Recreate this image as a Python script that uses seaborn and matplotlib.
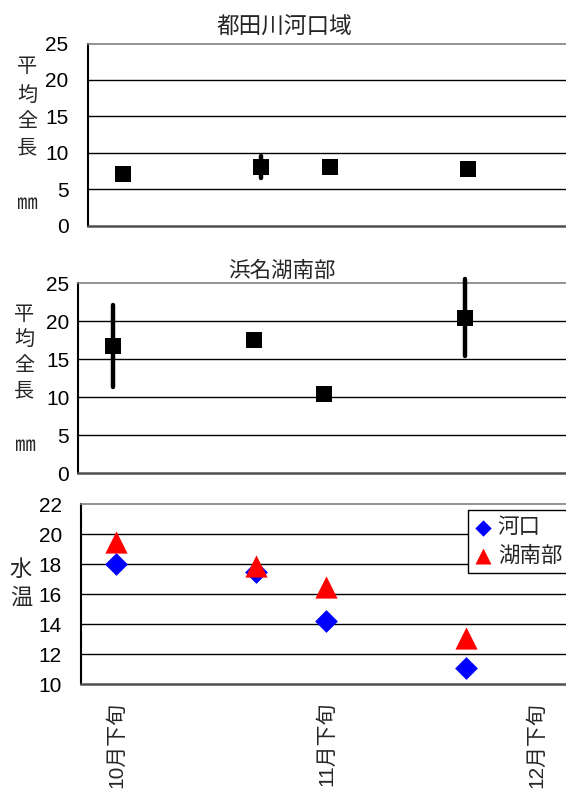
import numpy as np
import pandas as pd
import matplotlib
matplotlib.use("Agg")
import matplotlib.pyplot as plt
import seaborn as sns

# ---- data ----
x_labels = ["10月下旬", "", "", "11月下旬", "", "", "12月下旬", ""]

top_title = "都田川河口域"
top_pos = [0, 2, 3, 5]
top_mean = [7.1, 8.0, 8.0, 7.7]
top_lo = [np.nan, 6.5, np.nan, np.nan]
top_hi = [np.nan, 9.5, np.nan, np.nan]

mid_title = "浜名湖南部"
mid_pos = [0, 2, 3, 5]
mid_mean = [16.8, 17.6, 10.4, 20.4]
mid_lo = [11.3, np.nan, np.nan, 15.4]
mid_hi = [22.2, np.nan, np.nan, 25.6]

temp_pos = [0, 2, 3, 5]
temp_kako = [18.0, 17.5, 14.2, 11.1]
temp_konan = [19.45, 17.9, 16.5, 13.1]
legend_labels = ["河口", "湖南部"]

# ---- style ----
sns.set_style("white")
plt.rcParams["font.family"] = ["Liberation Sans", "Noto Sans CJK JP", "DejaVu Sans"]

W, H = 566, 792
fig = plt.figure(figsize=(W / 100, H / 100), dpi=100)


def px_axes(left, top, right, bottom):
    return fig.add_axes([left / W, 1 - bottom / H, (right - left) / W, (bottom - top) / H])


ax1 = px_axes(88, 43.5, 641, 225.5)
ax2 = px_axes(77.6, 283.3, 641, 473.3)
ax3 = px_axes(81.2, 504, 641, 684)

FS = 15
spine_c = "#505050"


def style_axis(ax, ylim, yticks, ypad, show_labels=False):
    ax.set_xlim(-0.5, len(x_labels) - 0.5)
    ax.set_ylim(*ylim)
    ax.set_yticks(yticks)
    ax.set_yticklabels([str(t) for t in yticks])
    ax.tick_params(axis="y", length=0, pad=ypad, labelsize=FS, colors="black")
    for t in yticks[1:-1]:
        ax.axhline(t, color="black", lw=1.0, zorder=0.5)
    ax.set_xticks(np.arange(len(x_labels)) + 0.5, minor=True)
    ax.tick_params(axis="x", which="minor", direction="in", length=6.5, width=1.2, color=spine_c)
    if show_labels:
        ax.set_xticks(np.arange(len(x_labels)))
        ax.set_xticklabels(x_labels, rotation=90, va="top", ha="center", fontsize=15)
        ax.tick_params(axis="x", which="major", length=0, pad=13)
    else:
        ax.set_xticks([])
    ax.spines["left"].set_color("black")
    ax.spines["left"].set_linewidth(1.5)
    ax.spines["bottom"].set_color(spine_c)
    ax.spines["bottom"].set_linewidth(1.8)
    ax.spines["top"].set_color("#808080")
    ax.spines["top"].set_linewidth(1.2)
    ax.spines["right"].set_visible(False)
    ax.set_xlabel("")
    ax.set_ylabel("")


def vlabel(chars_pos, x, fs):
    for ch, y in chars_pos:
        fig.text(x / W, 1 - y / H, ch, ha="center", va="center", fontsize=fs,
                 family=["Noto Sans CJK JP", "DejaVu Sans"])


# ---- top panel ----
df1 = pd.DataFrame({"x": top_pos, "y": top_mean, "lo": top_lo, "hi": top_hi})
sns.scatterplot(data=df1, x="x", y="y", marker="s", s=11.5 ** 2, color="black",
                linewidth=0, ax=ax1, zorder=3, clip_on=False)
e1 = df1.dropna()
ax1.vlines(e1["x"], e1["lo"], e1["hi"], color="black", lw=3.2, zorder=3,
           capstyle="round", clip_on=False)
style_axis(ax1, (0, 25), [0, 5, 10, 15, 20, 25], 14)
fig.text(284 / W, 1 - 27 / H, top_title, ha="center", va="center", fontsize=16.3,
         family=["Noto Sans CJK JP"])
vlabel([("平", 66.7), ("均", 95), ("全", 121), ("長", 148)], 27, 14.5)
fig.text(27 / W, 1 - 203 / H, "㎜", ha="center", va="center", fontsize=15,
         family=["Noto Sans CJK JP", "DejaVu Sans"])

# ---- middle panel ----
df2 = pd.DataFrame({"x": mid_pos, "y": mid_mean, "lo": mid_lo, "hi": mid_hi})
e2 = df2.dropna()
ax2.vlines(e2["x"], e2["lo"], e2["hi"], color="black", lw=3.2, zorder=3,
           capstyle="round", clip_on=False)
sns.scatterplot(data=df2, x="x", y="y", marker="s", s=11.5 ** 2, color="black",
                linewidth=0, ax=ax2, zorder=4, clip_on=False)
style_axis(ax2, (0, 25), [0, 5, 10, 15, 20, 25], 6)
fig.text(281.6 / W, 1 - 270.7 / H, mid_title, ha="center", va="center", fontsize=15.5,
         family=["Noto Sans CJK JP"])
vlabel([("平", 315), ("均", 339), ("全", 365), ("長", 391)], 24, 14.5)
fig.text(25 / W, 1 - 445 / H, "㎜", ha="center", va="center", fontsize=15,
         family=["Noto Sans CJK JP", "DejaVu Sans"])

# ---- bottom panel ----
df3 = pd.DataFrame({"x": temp_pos, "kako": temp_kako, "konan": temp_konan})
sns.scatterplot(data=df3, x="x", y="kako", marker="D", s=11.6 ** 2, color="#0000ff",
                linewidth=0, ax=ax3, zorder=3, label=legend_labels[0])
sns.scatterplot(data=df3, x="x", y="konan", marker="^", s=16 ** 2, color="#ff0000",
                linewidth=0, ax=ax3, zorder=4, label=legend_labels[1])
style_axis(ax3, (10, 22), [10, 12, 14, 16, 18, 20, 22], 14, show_labels=True)
vlabel([("水", 569), ("温", 597)], 21, 16)

leg = ax3.legend(loc="upper left", bbox_to_anchor=(468 / W, 1 - 510 / H),
                 bbox_transform=fig.transFigure, fontsize=15.5, frameon=True,
                 fancybox=False, edgecolor="black", framealpha=1, borderpad=0.3,
                 labelspacing=0.3, handlelength=0.8, handletextpad=0.28,
                 markerscale=0.72, borderaxespad=0)
leg.get_frame().set_linewidth(1.0)
for t in leg.get_texts():
    t.set_family(["Noto Sans CJK JP"])

fig.savefig("out.png", dpi=100)
